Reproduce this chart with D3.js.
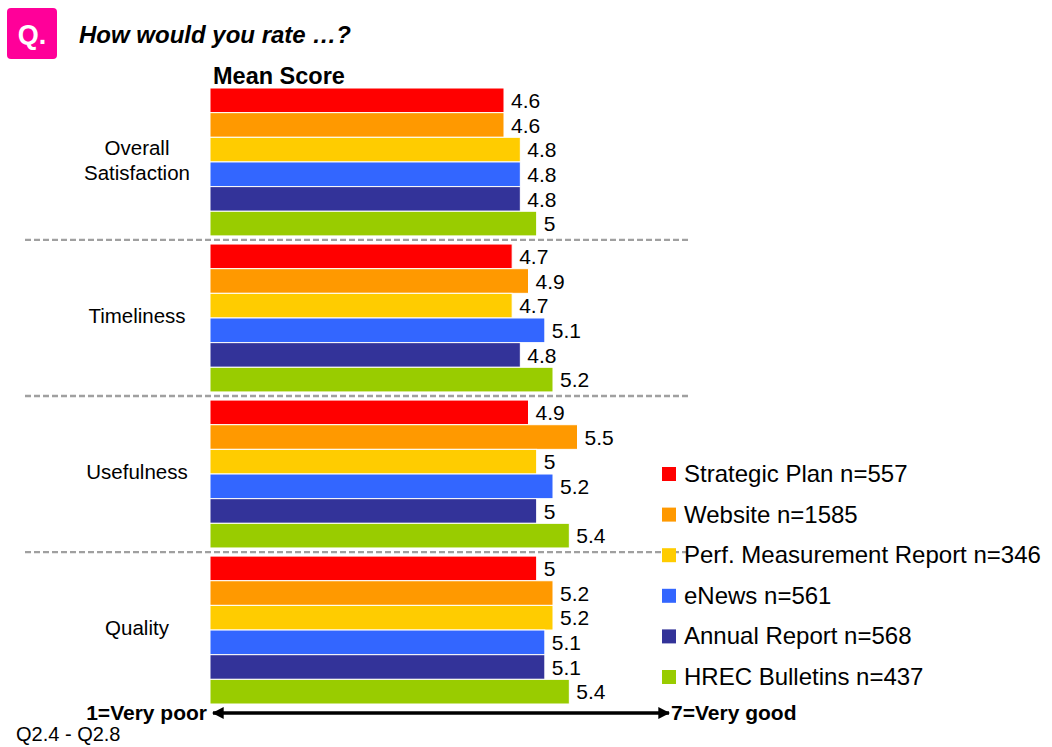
<!DOCTYPE html>
<html>
<head>
<meta charset="utf-8">
<script src="https://cdn.jsdelivr.net/npm/d3@7"></script>
<style>
  body { margin: 0; background: #fff; }
  svg { font-family: "Liberation Sans", Arial, sans-serif; }
</style>
</head>
<body>
<svg id="chart" width="1052" height="747"></svg>
<script>
// data
let categories = ["Overall Satisfaction", "Timeliness", "Usefulness", "Quality"];
let series = ["Strategic Plan n=557", "Website n=1585", "Perf. Measurement Report n=346",
    "eNews n=561", "Annual Report n=568", "HREC Bulletins n=437"];
let colors = ["#ff0000", "#ff9900", "#ffcc00", "#3366ff", "#333399", "#99cc00"];
let strategicPlan = [4.6, 4.7, 4.9, 5];
let website = [4.6, 4.9, 5.5, 5.2];
let perfReport = [4.8, 4.7, 5, 5.2];
let eNews = [4.8, 5.1, 5.2, 5.1];
let annualReport = [4.8, 4.8, 5, 5.1];
let hrecBulletins = [5, 5.2, 5.4, 5.4];
let seriesValues = [strategicPlan, website, perfReport, eNews, annualReport, hrecBulletins];

let svg = d3.select("#chart");

let x = d3.scaleLinear().domain([1, 7]).range([210, 700]);
let y0 = d3.scaleBand().domain(categories).range([88, 704]).paddingInner(0.052).paddingOuter(0);
let y1 = d3.scaleBand().domain(series).range([0, y0.bandwidth()]).padding(0);

// header
svg.append("rect")
    .attr("x", 7).attr("y", 8).attr("width", 50).attr("height", 51)
    .attr("rx", 4).attr("fill", "#ff0099");
svg.append("text")
    .attr("x", 32).attr("y", 44).attr("text-anchor", "middle")
    .attr("fill", "#fff").attr("font-weight", "bold").attr("font-size", 27)
    .text("Q.");
svg.append("text")
    .attr("x", 79).attr("y", 43)
    .attr("font-weight", "bold").attr("font-style", "italic").attr("font-size", 24)
    .text("How would you rate \u2026?");
svg.append("text")
    .attr("x", 213).attr("y", 84)
    .attr("font-weight", "bold").attr("font-size", 23.5)
    .text("Mean Score");

// rows as flat list
let rows = [];
categories.forEach((c, ci) => {
    series.forEach((s, si) => {
        rows.push({cat: c, ser: s, value: seriesValues[si][ci], color: colors[si]});
    });
});

let bars = svg.append("g");
bars.selectAll("rect")
    .data(rows)
    .enter().append("rect")
    .attr("x", x(1))
    .attr("y", (d) => y0(d.cat) + y1(d.ser))
    .attr("width", (d) => x(d.value) - x(1))
    .attr("height", y1.bandwidth())
    .attr("fill", (d) => d.color)
    .attr("stroke", "#fff")
    .attr("stroke-width", 1);

bars.selectAll("text")
    .data(rows)
    .enter().append("text")
    .attr("x", (d) => x(d.value) + 7)
    .attr("y", (d) => y0(d.cat) + y1(d.ser) + y1.bandwidth() / 2)
    .attr("dy", "0.37em")
    .attr("font-size", 21)
    .text((d) => d.value);

// category labels
let catG = svg.append("g");
categories.forEach((c) => {
    let words = c === "Overall Satisfaction" ? ["Overall", "Satisfaction"] : [c];
    let cy = y0(c) + y0.bandwidth() / 2 - 2;
    let t = catG.append("text")
        .attr("text-anchor", "middle")
        .attr("font-size", 20.5);
    words.forEach((w, i) => {
        t.append("tspan")
            .attr("x", 137)
            .attr("y", cy + (i - (words.length - 1) / 2) * 25)
            .attr("dy", "0.36em")
            .text(w);
    });
});

// dashed separators
let step = y0.step();
svg.append("g").selectAll("line")
    .data(categories.slice(1))
    .enter().append("line")
    .attr("x1", 25).attr("x2", 690)
    .attr("y1", (d) => y0(d) - (step - y0.bandwidth()) / 2)
    .attr("y2", (d) => y0(d) - (step - y0.bandwidth()) / 2)
    .attr("stroke", "#a0a0a0").attr("stroke-width", 2.3)
    .attr("stroke-dasharray", "6,3");

// legend
let legend = svg.append("g");
series.forEach((s, i) => {
    let ly = 474 + i * 40.6;
    legend.append("rect")
        .attr("x", 662).attr("y", ly - 7).attr("width", 14).attr("height", 14)
        .attr("fill", colors[i]);
    legend.append("text")
        .attr("x", 684).attr("y", ly + 8)
        .attr("font-size", 24)
        .text(s);
});

// bottom scale arrow
let defs = svg.append("defs");
defs.append("marker")
    .attr("id", "arrowHead")
    .attr("viewBox", "0 0 10 10")
    .attr("refX", 9).attr("refY", 5)
    .attr("markerWidth", 3.4).attr("markerHeight", 3.4)
    .attr("orient", "auto-start-reverse")
    .append("path")
    .attr("d", "M0,0 L10,5 L0,10 z")
    .attr("fill", "#000");
svg.append("line")
    .attr("x1", 213).attr("x2", 669)
    .attr("y1", 713).attr("y2", 713)
    .attr("stroke", "#000").attr("stroke-width", 3.5)
    .attr("marker-start", "url(#arrowHead)")
    .attr("marker-end", "url(#arrowHead)");
svg.append("text")
    .attr("x", 207).attr("y", 720).attr("text-anchor", "end")
    .attr("font-weight", "bold").attr("font-size", 21)
    .text("1=Very poor");
svg.append("text")
    .attr("x", 671).attr("y", 720)
    .attr("font-weight", "bold").attr("font-size", 21)
    .text("7=Very good");
svg.append("text")
    .attr("x", 16).attr("y", 741)
    .attr("font-size", 20)
    .text("Q2.4 - Q2.8");
</script>
</body>
</html>
